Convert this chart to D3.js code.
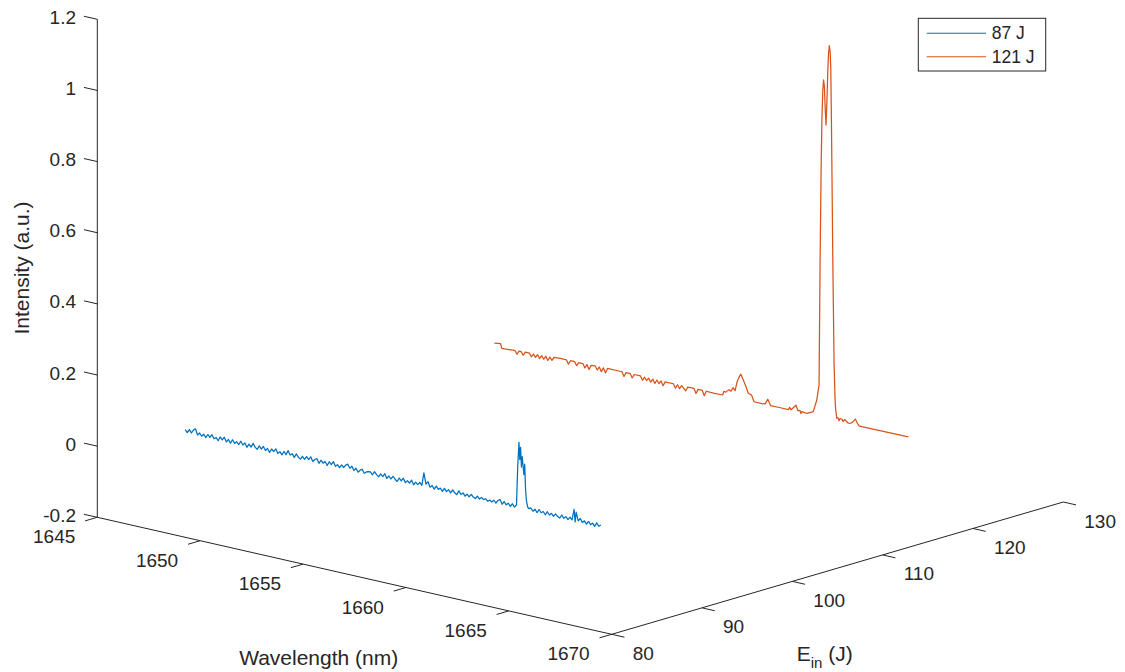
<!DOCTYPE html>
<html>
<head>
<meta charset="utf-8">
<script src="https://cdn.jsdelivr.net/npm/d3@7"></script>
<style>
    body { margin: 0; background: #fff; }
    text { font-family: "Liberation Sans", Arial, Helvetica, sans-serif; fill: #262626; }
</style>
</head>
<body>
<svg id="chart" width="1125" height="672"></svg>
<script>
const zTicks = [-0.2, 0, 0.2, 0.4, 0.6, 0.8, 1, 1.2];
const wlTicks = [1645, 1650, 1655, 1660, 1665, 1670];
const energyTicks = [80, 90, 100, 110, 120, 130];

const seriesNames = ["87 J", "121 J"];
const seriesEnergy = [87, 121];
const seriesColors = ["#0072BD", "#D95319"];

// [wavelength nm, intensity a.u.]
const spectrum87 = [
    [1646.2, 0.010], [1646.3, 0.003], [1646.4, 0.013], [1646.5, 0.005], [1646.6, 0.014], [1646.7, 0.019], [1646.8, 0.003], [1646.9, 0.010],
    [1647.0, 0.002], [1647.1, 0.009], [1647.2, 0.001], [1647.3, 0.011], [1647.4, 0.004], [1647.5, 0.013], [1647.6, 0.003], [1647.7, 0.008], [1647.8, 0.000], [1647.9, 0.012],
    [1648.0, 0.005], [1648.1, 0.014], [1648.2, 0.002], [1648.3, 0.010], [1648.4, 0.001], [1648.5, 0.012], [1648.6, 0.003], [1648.7, 0.009], [1648.8, 0.002], [1648.9, 0.013],
    [1649.0, 0.004], [1649.1, 0.011], [1649.2, 0.000], [1649.3, 0.010], [1649.4, 0.003], [1649.5, 0.015], [1649.6, 0.005], [1649.7, 0.001], [1649.8, 0.012], [1649.9, 0.004],
    [1650.0, 0.013], [1650.1, 0.003], [1650.2, 0.010], [1650.3, 0.000], [1650.4, 0.011], [1650.5, 0.005], [1650.6, 0.014], [1650.7, 0.002], [1650.8, 0.009], [1650.9, 0.001],
    [1651.0, 0.012], [1651.1, 0.004], [1651.2, 0.017], [1651.3, 0.006], [1651.4, 0.011], [1651.5, 0.002], [1651.6, 0.013], [1651.7, 0.005], [1651.8, 0.001], [1651.9, 0.010],
    [1652.0, 0.003], [1652.1, 0.012], [1652.2, 0.005], [1652.3, 0.014], [1652.4, 0.002], [1652.5, 0.009], [1652.6, 0.013], [1652.7, 0.001], [1652.8, 0.011], [1652.9, 0.004],
    [1653.0, 0.010], [1653.1, 0.000], [1653.2, 0.012], [1653.3, 0.005], [1653.4, 0.015], [1653.5, 0.003], [1653.6, 0.009], [1653.7, 0.002], [1653.8, 0.011], [1653.9, 0.005],
    [1654.0, 0.013], [1654.1, 0.017], [1654.2, 0.007], [1654.3, 0.014], [1654.4, 0.003], [1654.5, 0.011], [1654.6, 0.001], [1654.7, 0.008], [1654.8, 0.012], [1654.9, 0.002],
    [1655.0, 0.007], [1655.1, 0.009], [1655.2, 0.010], [1655.3, 0.003], [1655.4, 0.013], [1655.5, 0.006], [1655.6, 0.001], [1655.7, 0.011], [1655.8, 0.004], [1655.9, 0.014],
    [1656.0, 0.002], [1656.1, 0.010], [1656.2, 0.003], [1656.3, 0.012], [1656.4, 0.005], [1656.5, 0.000], [1656.6, 0.011], [1656.7, 0.004], [1656.8, 0.013], [1656.9, 0.002],
    [1657.0, 0.009], [1657.1, 0.003], [1657.2, 0.013], [1657.3, 0.001], [1657.4, 0.010], [1657.5, 0.004], [1657.6, 0.012], [1657.7, 0.005], [1657.8, 0.041], [1657.9, 0.011],
    [1658.0, 0.019], [1658.1, 0.005], [1658.2, 0.011], [1658.3, 0.002], [1658.4, 0.012], [1658.5, 0.004], [1658.6, 0.009], [1658.7, 0.001], [1658.8, 0.011], [1658.9, 0.003],
    [1659.0, 0.010], [1659.1, 0.002], [1659.2, 0.012], [1659.3, 0.005], [1659.4, 0.001], [1659.5, 0.013], [1659.6, 0.004], [1659.7, 0.010], [1659.8, 0.002], [1659.9, 0.009],
    [1660.0, 0.003], [1660.1, 0.011], [1660.2, 0.005], [1660.3, 0.002], [1660.4, 0.010], [1660.5, 0.003], [1660.6, 0.009], [1660.7, 0.004], [1660.8, 0.008], [1660.9, 0.002],
    [1661.0, 0.007], [1661.1, 0.003], [1661.2, 0.009], [1661.3, 0.002], [1661.4, 0.011], [1661.5, 0.015], [1661.6, 0.003], [1661.7, 0.012], [1661.8, 0.004], [1661.9, 0.010],
    [1662.0, 0.002], [1662.1, 0.011], [1662.2, 0.003], [1662.3, 0.010], [1662.36, 0.120], [1662.42, 0.188], [1662.46, 0.140], [1662.50, 0.175], [1662.54, 0.120],
    [1662.58, 0.150], [1662.62, 0.125], [1662.66, 0.100], [1662.70, 0.130], [1662.74, 0.060], [1662.78, 0.030], [1662.84, 0.012], [1662.9, 0.008],
    [1663.0, 0.011], [1663.1, 0.003], [1663.2, 0.010], [1663.3, 0.002], [1663.4, 0.012], [1663.5, 0.004], [1663.6, 0.009], [1663.7, 0.001], [1663.8, 0.011], [1663.9, 0.003],
    [1664.0, 0.009], [1664.1, 0.002], [1664.2, 0.010], [1664.3, 0.004], [1664.4, 0.001], [1664.5, 0.011], [1664.6, 0.003], [1664.7, 0.009], [1664.8, 0.002], [1664.9, 0.010],
    [1665.0, 0.004], [1665.1, 0.035], [1665.15, 0.000], [1665.2, 0.028], [1665.3, 0.005], [1665.4, 0.013], [1665.5, 0.003], [1665.6, 0.009], [1665.7, 0.001], [1665.8, 0.010],
    [1665.9, 0.002], [1666.0, 0.008], [1666.1, 0.000], [1666.2, 0.011], [1666.3, 0.003], [1666.4, 0.008]
];

const spectrum121 = [
    [1646.30, 0.002], [1646.45, 0.003], [1646.60, 0.004], [1646.66, -0.008], [1646.8, -0.008], [1647.0, -0.007], [1647.2, -0.006],
    [1647.3, -0.006], [1647.4, -0.015], [1647.5, -0.005], [1647.6, -0.005], [1647.7, -0.014], [1647.8, -0.004], [1648.0, -0.004],
    [1648.1, -0.013], [1648.2, -0.004], [1648.3, -0.012], [1648.4, -0.003], [1648.5, -0.013], [1648.6, -0.003], [1648.7, -0.012],
    [1648.8, -0.002], [1648.9, -0.013], [1649.0, -0.002], [1649.1, -0.010], [1649.2, 0.000], [1649.5, 0.001], [1649.8, 0.001],
    [1649.9, -0.010], [1650.0, 0.001], [1650.2, 0.001], [1650.3, -0.009], [1650.4, 0.001], [1650.6, 0.001], [1650.7, -0.010],
    [1650.8, 0.001], [1650.9, -0.012], [1651.0, 0.001], [1651.2, 0.002], [1651.3, -0.008], [1651.4, 0.002], [1651.5, -0.010],
    [1651.6, 0.002], [1651.7, -0.011], [1651.8, 0.003], [1652.4, 0.003], [1652.5, 0.003], [1652.6, -0.009], [1652.7, 0.003],
    [1652.9, 0.003], [1653.0, -0.008], [1653.1, 0.003], [1653.4, 0.003], [1653.5, -0.008], [1653.6, 0.002], [1653.7, -0.006],
    [1653.8, 0.002], [1653.9, -0.008], [1654.0, 0.002], [1654.1, -0.009], [1654.2, 0.002], [1654.3, -0.007], [1654.4, 0.002],
    [1654.5, -0.010], [1654.6, 0.002], [1655.0, 0.002], [1655.1, -0.009], [1655.2, 0.002], [1655.3, -0.008], [1655.4, 0.002],
    [1655.6, -0.010], [1655.7, 0.002], [1656.0, 0.002], [1656.1, -0.011], [1656.2, 0.002], [1656.4, 0.002], [1656.5, -0.012],
    [1656.6, 0.002], [1657.0, 0.001], [1657.4, 0.002], [1657.45, 0.013], [1657.55, 0.012], [1657.7, 0.021], [1657.8, 0.018],
    [1657.9, 0.029], [1658.0, 0.022], [1658.1, 0.049], [1658.22, 0.066], [1658.28, 0.072], [1658.4, 0.057], [1658.53, 0.040],
    [1658.64, 0.023], [1658.8, 0.020], [1658.92, 0.003], [1659.3, 0.003], [1659.46, 0.004], [1659.59, 0.019], [1659.73, 0.0025],
    [1660.2, 0.003], [1660.6, 0.003], [1660.65, 0.010], [1660.72, 0.004], [1660.96, 0.020], [1661.05, 0.006], [1661.15, 0.008],
    [1661.2, 0.000], [1661.24, 0.006], [1661.5, 0.004], [1661.8, 0.013], [1661.97, 0.048], [1662.08, 0.092], [1662.13, 0.435],
    [1662.18, 0.700], [1662.22, 0.840], [1662.26, 0.920], [1662.30, 0.952], [1662.34, 0.935], [1662.38, 0.870], [1662.42, 0.827],
    [1662.46, 0.890], [1662.50, 0.969], [1662.54, 1.030], [1662.58, 1.052], [1662.62, 1.035], [1662.65, 0.990], [1662.68, 0.850],
    [1662.71, 0.680], [1662.75, 0.443], [1662.81, 0.162], [1662.86, 0.060], [1662.89, 0.032], [1662.94, 0.010], [1663.0, 0.012],
    [1663.05, 0.004], [1663.1, 0.011], [1663.2, 0.010], [1663.25, 0.004], [1663.32, 0.011], [1663.5, 0.003], [1663.6, 0.004],
    [1663.7, 0.008], [1663.84, 0.019], [1663.95, 0.008], [1664.04, 0.002], [1666.42, 0.003]
];

// oblique projection of the 3d box onto the page
const origin = [97.3, 517.3];
const wlX = d3.scaleLinear().domain([1645, 1670]).range([0, 514.4]);
const wlY = d3.scaleLinear().domain([1645, 1670]).range([0, 117]);
const eX = d3.scaleLinear().domain([80, 130]).range([0, 451.6]);
const eY = d3.scaleLinear().domain([80, 130]).range([0, -132.3]);
const zY = d3.scaleLinear().domain([-0.2, 1.2]).range([0, -498]);

function project(w, e, z) {
    return [origin[0] + wlX(w) + eX(e), origin[1] + wlY(w) + eY(e) + zY(z)];
}

let svg = d3.select("#chart");
let axisColor = "#262626";

// axis lines
let axesG = svg.append("g").attr("class", "axes");
let axisSegs = [
    [[1645, 80, -0.2], [1645, 80, 1.2]],
    [[1645, 80, -0.2], [1670, 80, -0.2]],
    [[1670, 80, -0.2], [1670, 130, -0.2]]
];
axesG.selectAll("line.axis")
    .data(axisSegs)
    .enter().append("line")
    .attr("class", "axis")
    .attr("x1", d => project(...d[0])[0])
    .attr("y1", d => project(...d[0])[1])
    .attr("x2", d => project(...d[1])[0])
    .attr("y2", d => project(...d[1])[1])
    .attr("stroke", axisColor)
    .attr("stroke-width", 1);

// z ticks (point back along wavelength)
axesG.selectAll("line.ztick")
    .data(zTicks)
    .enter().append("line")
    .attr("x1", d => project(1645, 80, d)[0])
    .attr("y1", d => project(1645, 80, d)[1])
    .attr("x2", d => project(1644.35, 80, d)[0])
    .attr("y2", d => project(1644.35, 80, d)[1])
    .attr("stroke", axisColor);
axesG.selectAll("text.ztick")
    .data(zTicks)
    .enter().append("text")
    .attr("x", d => project(1645, 80, d)[0] - 21.3)
    .attr("y", d => project(1645, 80, d)[1] - 2)
    .attr("text-anchor", "end")
    .attr("dominant-baseline", "central")
    .style("font-size", "19px")
    .text(d => String(d));

// wavelength ticks (point back along energy)
axesG.selectAll("line.wtick")
    .data(wlTicks)
    .enter().append("line")
    .attr("x1", d => project(d, 80, -0.2)[0])
    .attr("y1", d => project(d, 80, -0.2)[1])
    .attr("x2", d => project(d, 78.65, -0.2)[0])
    .attr("y2", d => project(d, 78.65, -0.2)[1])
    .attr("stroke", axisColor);
axesG.selectAll("text.wtick")
    .data(wlTicks)
    .enter().append("text")
    .attr("x", d => project(d, 80, -0.2)[0] - 22)
    .attr("y", d => project(d, 80, -0.2)[1] + 19.5)
    .attr("text-anchor", "end")
    .attr("dominant-baseline", "central")
    .style("font-size", "19px")
    .text(d => d);

// energy ticks (point out along wavelength)
axesG.selectAll("line.etick")
    .data(energyTicks)
    .enter().append("line")
    .attr("x1", d => project(1670, d, -0.2)[0])
    .attr("y1", d => project(1670, d, -0.2)[1])
    .attr("x2", d => project(1670.62, d, -0.2)[0])
    .attr("y2", d => project(1670.62, d, -0.2)[1])
    .attr("stroke", axisColor);
axesG.selectAll("text.etick")
    .data(energyTicks)
    .enter().append("text")
    .attr("x", d => project(1670, d, -0.2)[0] + 21)
    .attr("y", d => project(1670, d, -0.2)[1] + 19)
    .attr("text-anchor", "start")
    .attr("dominant-baseline", "central")
    .style("font-size", "19px")
    .text(d => d);

// axis labels
svg.append("text")
    .attr("transform", "translate(29,268) rotate(-90)")
    .attr("text-anchor", "middle")
    .style("font-size", "21px")
    .text("Intensity (a.u.)");
svg.append("text")
    .attr("x", 318.7)
    .attr("y", 665)
    .attr("text-anchor", "middle")
    .style("font-size", "21px")
    .text("Wavelength (nm)");
let eLabel = svg.append("text")
    .attr("x", 796.7)
    .attr("y", 661)
    .style("font-size", "21px");
eLabel.append("tspan").text("E");
eLabel.append("tspan").attr("dy", 7).style("font-size", "15px").text("in");
eLabel.append("tspan").attr("dy", -7).text(" (J)");

// spectra
let allSeries = [spectrum87, spectrum121];
let linesG = svg.append("g").attr("class", "spectra");
allSeries.forEach((data, i) => {
    let e = seriesEnergy[i];
    let line = d3.line()
        .x(d => project(d[0], e, d[1])[0])
        .y(d => project(d[0], e, d[1])[1]);
    linesG.append("path")
        .datum(data)
        .attr("d", line)
        .attr("fill", "none")
        .attr("stroke", seriesColors[i])
        .attr("stroke-width", 1.25)
        .attr("stroke-linejoin", "round");
});

// legend
let legend = svg.append("g").attr("class", "legend");
legend.append("rect")
    .attr("x", 918.3)
    .attr("y", 18.3)
    .attr("width", 127.4)
    .attr("height", 52.7)
    .attr("fill", "#fff")
    .attr("stroke", axisColor)
    .attr("stroke-width", 1);
let item = legend.selectAll("g.item")
    .data(seriesNames)
    .enter().append("g")
    .attr("class", "item")
    .attr("transform", (d, i) => `translate(0,${33.3 + i * 23.4})`);
item.append("line")
    .attr("x1", 926.7)
    .attr("x2", 986)
    .attr("stroke", (d, i) => seriesColors[i])
    .attr("stroke-width", 1.1);
item.append("text")
    .attr("x", 991.7)
    .attr("dominant-baseline", "central")
    .style("font-size", "17.5px")
    .text(d => d);
</script>
</body>
</html>
